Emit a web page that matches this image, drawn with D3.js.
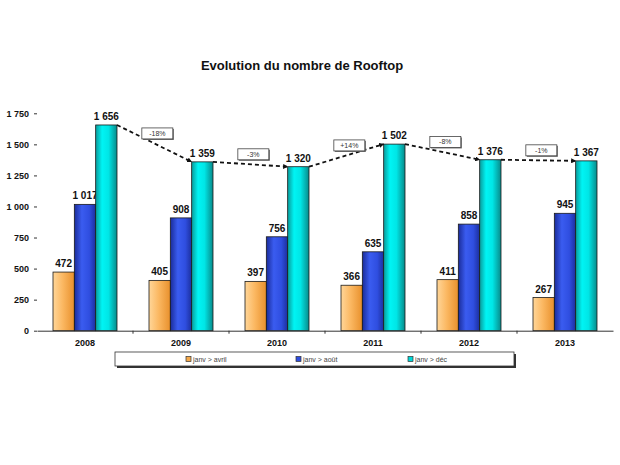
<!DOCTYPE html>
<html>
<head>
<meta charset="utf-8">
<script src="https://cdn.jsdelivr.net/npm/d3@7"></script>
<style>
  body { margin: 0; background: #fff; }
  svg { display: block; font-family: Arial, "Liberation Sans", sans-serif; }
</style>
</head>
<body>
<svg id="chart" width="620" height="465"></svg>
<script>
const categories = ["2008", "2009", "2010", "2011", "2012", "2013"];
const seriesNames = ["janv > avril", "janv > août", "janv > déc"];
const avril = [472, 405, 397, 366, 411, 267];
const aout = [1017, 908, 756, 635, 858, 945];
const dec = [1656, 1359, 1320, 1502, 1376, 1367];
const changes = ["-18%", "-3%", "+14%", "-8%", "-1%"];
const yTicks = [0, 250, 500, 750, 1000, 1250, 1500, 1750];
const title = "Evolution du nombre de Rooftop";

const series = [avril, aout, dec];
const svg = d3.select("#chart");
const defs = svg.append("defs");

const grads = [
  ["gOr", [["0%", "#ffd699"], ["45%", "#fbb862"], ["100%", "#e8902c"]]],
  ["gBl", [["0%", "#1a2c9a"], ["35%", "#3a5cf0"], ["70%", "#2f4ee0"], ["100%", "#1c2f9e"]]],
  ["gCy", [["0%", "#0a9a9a"], ["30%", "#00f4f4"], ["60%", "#00e6e6"], ["100%", "#088a8a"]]]
];
grads.forEach(([id, stops]) => {
  const g = defs.append("linearGradient").attr("id", id).attr("x1", "0%").attr("x2", "100%").attr("y1", "0%").attr("y2", "0%");
  stops.forEach(s => g.append("stop").attr("offset", s[0]).attr("stop-color", s[1]));
});
const fills = ["url(#gOr)", "url(#gBl)", "url(#gCy)"];
const legendColors = ["#f5a94a", "#2f4ee0", "#00d8d8"];

defs.append("marker").attr("id", "arrow").attr("viewBox", "0 0 10 10")
  .attr("refX", 9).attr("refY", 5).attr("markerWidth", 5).attr("markerHeight", 5)
  .attr("orient", "auto").attr("markerUnits", "userSpaceOnUse")
  .append("path").attr("d", "M0,0 L10,5 L0,10 z").attr("fill", "#111");

const x0 = 37, x1 = 613;
const y = d3.scaleLinear().domain([0, 1750]).range([330.7, 113.3]);
const x = d3.scaleBand().domain(categories).range([x0, x1]).paddingInner(0).paddingOuter(0);
const xs = d3.scaleBand().domain([0, 1, 2]).range([x.bandwidth() / 2 - 32, x.bandwidth() / 2 + 32]).padding(0);

// title
svg.append("text").attr("x", 302).attr("y", 70).attr("text-anchor", "middle")
  .attr("font-size", 13).attr("font-weight", "bold").attr("fill", "#111").text(title);

// y axis
const yAxis = svg.append("g").attr("transform", `translate(${x0},0)`)
  .call(d3.axisLeft(y).tickValues(yTicks).tickSize(3).tickPadding(5)
    .tickFormat(d => d3.format(",")(d).replace(/,/g, " ")));
yAxis.select(".domain").remove();
yAxis.selectAll("text").attr("font-size", 9).attr("font-weight", "bold").attr("fill", "#111").attr("font-family", "Arial, 'Liberation Sans', sans-serif");
yAxis.selectAll("line").attr("stroke", "#333");

// bars
const groups = svg.append("g").selectAll("g").data(categories).join("g")
  .attr("transform", d => `translate(${x(d)},0)`);
series.forEach((vals, si) => {
  groups.append("rect")
    .attr("x", xs(si)).attr("width", xs.bandwidth())
    .attr("y", (d, i) => y(vals[i])).attr("height", (d, i) => y(0) - y(vals[i]))
    .attr("fill", fills[si]).attr("stroke", "#1a1a1a").attr("stroke-width", 0.8);
  groups.append("text")
    .attr("x", xs(si) + xs.bandwidth() / 2)
    .attr("y", (d, i) => y(vals[i]) - 5)
    .attr("text-anchor", "middle").attr("font-size", 10).attr("font-weight", "bold").attr("fill", "#111")
    .text((d, i) => d3.format(",")(vals[i]).replace(/,/g, " "));
});

// x axis
const xAxis = svg.append("g").attr("transform", `translate(0,${y(0)})`)
  .call(d3.axisBottom(x).tickSize(0).tickPadding(9));
xAxis.select(".domain").attr("stroke", "#333");
xAxis.selectAll("text").attr("font-size", 9).attr("font-weight", "bold").attr("fill", "#111").attr("font-family", "Arial, 'Liberation Sans', sans-serif");
svg.append("g").selectAll("line").data(categories.slice(1)).join("line")
  .attr("x1", d => x(d)).attr("x2", d => x(d)).attr("y1", y(0)).attr("y2", y(0) + 3)
  .attr("stroke", "#333");

// dashed arrows between déc bars
const arrows = svg.append("g");
for (let i = 0; i < categories.length - 1; i++) {
  const sx = x(categories[i]) + xs(2) + xs.bandwidth();
  const sy = y(dec[i]);
  const ex = x(categories[i + 1]) + xs(2);
  const ey = y(dec[i + 1]);
  arrows.append("line").attr("x1", sx).attr("y1", sy).attr("x2", ex).attr("y2", ey)
    .attr("stroke", "#111").attr("stroke-width", 1.8).attr("stroke-dasharray", "4,3")
    .attr("marker-end", "url(#arrow)");
  const mx = (sx + ex) / 2 + 3, my = (sy + ey) / 2 - 10;
  const bw = 31, bh = 11;
  arrows.append("rect").attr("x", mx - bw / 2 + 1).attr("y", my - bh / 2 + 1).attr("width", bw).attr("height", bh).attr("fill", "#666");
  arrows.append("rect").attr("x", mx - bw / 2).attr("y", my - bh / 2).attr("width", bw).attr("height", bh)
    .attr("fill", "#fff").attr("stroke", "#444").attr("stroke-width", 0.8);
  arrows.append("text").attr("x", mx).attr("y", my + 2.5).attr("text-anchor", "middle")
    .attr("font-size", 7).attr("fill", "#333").text(changes[i]);
}

// legend
const lg = svg.append("g");
lg.append("rect").attr("x", 117).attr("y", 354).attr("width", 399).attr("height", 14).attr("fill", "#333");
lg.append("rect").attr("x", 115).attr("y", 352).attr("width", 399).attr("height", 14)
  .attr("fill", "#fff").attr("stroke", "#333").attr("stroke-width", 0.8);
const lx = [186, 296, 408];
seriesNames.forEach((n, i) => {
  lg.append("rect").attr("x", lx[i]).attr("y", 356.5).attr("width", 5).attr("height", 5)
    .attr("fill", legendColors[i]).attr("stroke", "#333").attr("stroke-width", 0.7);
  lg.append("text").attr("x", lx[i] + 7).attr("y", 361.5).attr("font-size", 7).attr("fill", "#444").text(n);
});
</script>
</body>
</html>
